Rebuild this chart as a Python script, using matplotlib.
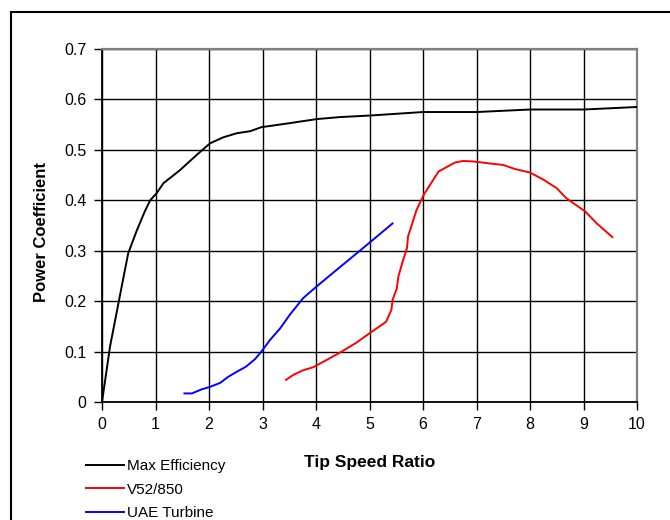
import matplotlib
matplotlib.use("Agg")
import matplotlib.pyplot as plt
from matplotlib.lines import Line2D
from matplotlib.patches import Rectangle

plt.rcParams.update({"font.family": ["Liberation Sans", "DejaVu Sans"], "font.size": 11})

# Max Efficiency (ideal rotor limit)
max_tsr = [0.0, 0.15, 0.37, 0.49, 0.65, 0.80, 0.90, 1.02, 1.15, 1.46, 1.77, 2.02, 2.27,
           2.52, 2.77, 2.98, 3.51, 4.01, 4.45, 5.0, 6.0, 7.0, 8.0, 9.0, 10.0]
max_cp = [0.0, 0.11, 0.23, 0.295, 0.34, 0.378, 0.40, 0.414, 0.434, 0.46, 0.49, 0.513, 0.525,
          0.533, 0.537, 0.545, 0.553, 0.561, 0.565, 0.568, 0.575, 0.575, 0.58, 0.58, 0.585]

# V52/850
v52_tsr = [3.44, 3.58, 3.76, 3.95, 4.14, 4.45, 4.76, 5.01, 5.31, 5.41, 5.43, 5.51, 5.54,
           5.63, 5.70, 5.72, 5.79, 5.88, 6.02, 6.29, 6.60, 6.75, 6.94, 7.25, 7.50, 7.72,
           8.00, 8.25, 8.50, 8.68, 9.03, 9.25, 9.54]
v52_cp = [0.044, 0.054, 0.063, 0.069, 0.080, 0.098, 0.118, 0.137, 0.159, 0.183, 0.202, 0.225,
          0.249, 0.282, 0.305, 0.328, 0.351, 0.381, 0.412, 0.457, 0.475, 0.478, 0.477, 0.473,
          0.470, 0.462, 0.455, 0.441, 0.424, 0.404, 0.378, 0.354, 0.327]

# UAE Turbine
uae_tsr = [1.54, 1.68, 1.86, 2.02, 2.21, 2.36, 2.52, 2.69, 2.86, 2.98, 3.14, 3.33, 3.51,
           3.76, 4.01, 4.26, 4.82, 5.43]
uae_cp = [0.017, 0.017, 0.025, 0.030, 0.038, 0.050, 0.060, 0.070, 0.085, 0.10, 0.123, 0.146,
          0.173, 0.206, 0.229, 0.251, 0.30, 0.354]

series = [("Max Efficiency", max_tsr, max_cp, "black"),
          ("V52/850", v52_tsr, v52_cp, "#FF0000"),
          ("UAE Turbine", uae_tsr, uae_cp, "#0000FF")]

fig = plt.figure(figsize=(6.7, 5.2), dpi=100)
ax = fig.add_axes([102 / 670, 1 - 402 / 520, 535 / 670, 353 / 520])

for name, x, y, c in series:
    ax.plot(x, y, color=c, lw=1.4, zorder=3)

ax.set_xlim(0, 10)
ax.set_ylim(0, 0.7)
ax.set_xticks(range(0, 11))
ax.set_yticks([0, 0.1, 0.2, 0.3, 0.4, 0.5, 0.6, 0.7])
ax.set_yticklabels(["0", "0.1", "0.2", "0.3", "0.4", "0.5", "0.6", "0.7"])
ax.grid(True, color="black", lw=1.0, zorder=1)
ax.set_axisbelow(True)
ax.tick_params(direction="out", length=6, width=1.0, color="black", pad=5, labelsize=11.5)
for s in ("left", "bottom"):
    ax.spines[s].set_color("black")
    ax.spines[s].set_linewidth(1.3)
for s in ("top", "right"):
    ax.spines[s].set_color("#808080")
    ax.spines[s].set_linewidth(1.6)

fig.text(42 / 670, 1 - 232 / 520, "Power Coefficient", fontweight="bold", fontsize=12,
         rotation=90, ha="center", va="center")
fig.text(370 / 670, 1 - 462 / 520, "Tip Speed Ratio", fontweight="bold", fontsize=12.5,
         ha="center", va="center")

handles = [Line2D([], [], color=c, lw=1.4) for _, _, _, c in series]
fig.legend(handles, [s[0] for s in series], loc="upper left",
           bbox_to_anchor=(80 / 670, 1 - 453 / 520), frameon=False, fontsize=11,
           handlelength=2.5, handletextpad=0.15, labelspacing=0.62, borderaxespad=0)

# outer chart border
fig.patches.append(Rectangle((11 / 670, -0.1), 1.1, 1 - 12 / 520 + 0.1,
                             transform=fig.transFigure, fill=False, ec="black", lw=1.5))

fig.savefig("out.png", dpi=100)
